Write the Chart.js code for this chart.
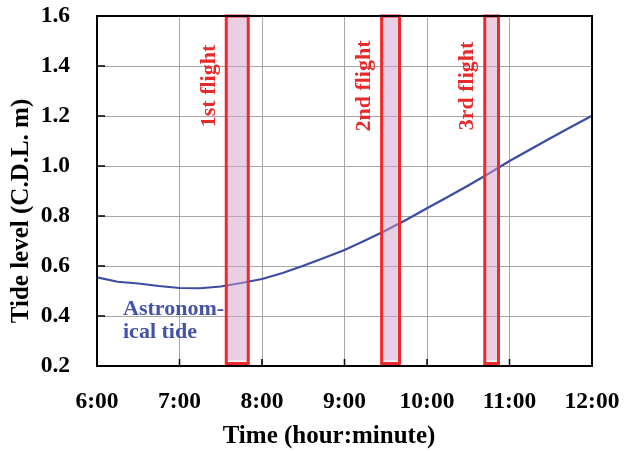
<!DOCTYPE html>
<html>
<head>
<meta charset="utf-8">
<script src="https://cdn.jsdelivr.net/npm/chart.js@4/dist/chart.umd.min.js"></script>
<style>
  html, body { margin: 0; padding: 0; background: #fff; }
  #wrap { width: 624px; height: 452px; }
</style>
</head>
<body>
<div id="wrap"><canvas id="c"></canvas></div>
<script>
// astronomical tide, read every 15 minutes
var times = ['6:00','6:15','6:30','6:45','7:00','7:15','7:30','7:45','8:00','8:15','8:30','8:45',
             '9:00','9:15','9:30','9:45','10:00','10:15','10:30','10:45','11:00','11:15','11:30','11:45','12:00'];
var tide = [0.555,0.537,0.530,0.520,0.512,0.511,0.518,0.532,0.548,0.572,0.601,0.632,
            0.664,0.702,0.742,0.785,0.831,0.876,0.922,0.970,1.020,1.066,1.112,1.157,1.201];

// flight windows
var flightNames = ['1st flight','2nd flight','3rd flight'];
var flightStart = ['7:34','9:27','10:42'];
var flightEnd = ['7:50','9:40','10:52'];

var xTicks = ['6:00','7:00','8:00','9:00','10:00','11:00','12:00'];
var yMin = 0.2, yMax = 1.6, yStep = 0.2;

function toMin(s) {
    var p = s.split(':');
    return +p[0] * 60 + +p[1];
}

var FONT = '"Liberation Serif", "Times New Roman", serif';

var framePlugin = {
    id: 'frame',
    afterDatasetsDraw: function (chart) {
        var ctx = chart.ctx, a = chart.chartArea;
        var xs = chart.scales.x, ys = chart.scales.y;
        ctx.save();
        // flight bars, drawn over the curve
        for (var i = 0; i < flightNames.length; i++) {
            var x0 = xs.getPixelForValue(toMin(flightStart[i]));
            var x1 = xs.getPixelForValue(toMin(flightEnd[i]));
            var yt = ys.getPixelForValue(yMax);
            ctx.fillStyle = 'rgba(210,160,200,0.5)';
            ctx.fillRect(x0, yt, x1 - x0, ys.getPixelForValue(0.222) - yt);
            ctx.strokeStyle = '#ee2a2a';
            ctx.lineWidth = 3;
            ctx.strokeRect(x0, yt, x1 - x0, ys.getPixelForValue(0.21) - yt);

            ctx.save();
            ctx.translate(x0 - 11.5, ys.getPixelForValue(1.32));
            ctx.rotate(-Math.PI / 2);
            ctx.fillStyle = '#e82a2a';
            ctx.font = 'bold 22px ' + FONT;
            ctx.textAlign = 'center';
            ctx.textBaseline = 'alphabetic';
            ctx.fillText(flightNames[i], 0, 0);
            ctx.restore();
        }
        // inward tick marks
        ctx.strokeStyle = '#000';
        ctx.lineWidth = 1.5;
        ctx.beginPath();
        xs.ticks.forEach(function (t) {
            var px = xs.getPixelForValue(t.value);
            ctx.moveTo(px, a.bottom);
            ctx.lineTo(px, a.bottom - 7);
        });
        ys.ticks.forEach(function (t) {
            var py = ys.getPixelForValue(t.value);
            ctx.moveTo(a.left, py);
            ctx.lineTo(a.left + 8, py);
        });
        ctx.stroke();
        // frame
        ctx.lineWidth = 2;
        ctx.strokeRect(a.left, a.top, a.right - a.left, a.bottom - a.top);

        // curve label
        ctx.fillStyle = '#4354a8';
        ctx.font = 'bold 22px ' + FONT;
        ctx.textAlign = 'left';
        ctx.textBaseline = 'alphabetic';
        ctx.fillText('Astronom-', 123, 315);
        ctx.fillText('ical tide', 123, 338);

        // axis titles
        ctx.fillStyle = '#000';
        ctx.font = 'bold 25px ' + FONT;
        ctx.textAlign = 'center';
        ctx.textBaseline = 'middle';
        ctx.fillText('Time (hour:minute)', 329, 437);
        ctx.save();
        ctx.translate(22, 211);
        ctx.rotate(-Math.PI / 2);
        ctx.fillText('Tide level (C.D.L. m)', 0, 0);
        ctx.restore();
        ctx.restore();
    }
};

var pts = times.map(function (t, i) { return {x: toMin(t), y: tide[i]}; });

function noPad(s) {
    s.paddingTop = 0; s.paddingBottom = 0; s.paddingLeft = 0; s.paddingRight = 0;
}

new Chart(document.getElementById('c'), {
    type: 'line',
    data: {
        datasets: [{
            label: 'Astronomical tide',
            data: pts,
            borderColor: '#3a4ca4',
            borderWidth: 2.2,
            pointRadius: 0,
            tension: 0,
            fill: false
        }]
    },
    options: {
        responsive: true,
        maintainAspectRatio: false,
        animation: false,
        layout: {padding: {left: 0, right: 32, top: 16, bottom: 0}},
        plugins: {legend: {display: false}, tooltip: {enabled: false}},
        scales: {
            x: {
                type: 'linear',
                min: toMin(xTicks[0]),
                max: toMin(xTicks[xTicks.length - 1]),
                afterBuildTicks: function (s) {
                    s.ticks = xTicks.map(function (t) { return {value: toMin(t)}; });
                },
                afterFit: function (s) { s.height = 86; noPad(s); },
                grid: {color: '#a6a6a6', lineWidth: 1, drawTicks: false},
                border: {display: false},
                ticks: {
                    padding: 22,
                    color: '#000',
                    maxRotation: 0,
                    font: {family: FONT, size: 23.5, weight: 'bold'},
                    callback: function (v) { return Math.floor(v / 60) + ':' + ('0' + (v % 60)).slice(-2); }
                }
            },
            y: {
                min: yMin,
                max: yMax,
                afterFit: function (s) { s.width = 97; noPad(s); },
                grid: {color: '#a6a6a6', lineWidth: 1, drawTicks: false},
                border: {display: false},
                ticks: {
                    stepSize: yStep,
                    padding: 27,
                    color: '#000',
                    font: {family: FONT, size: 23.5, weight: 'bold'},
                    callback: function (v) { return v.toFixed(1); }
                }
            }
        }
    },
    plugins: [framePlugin]
});
</script>
</body>
</html>
